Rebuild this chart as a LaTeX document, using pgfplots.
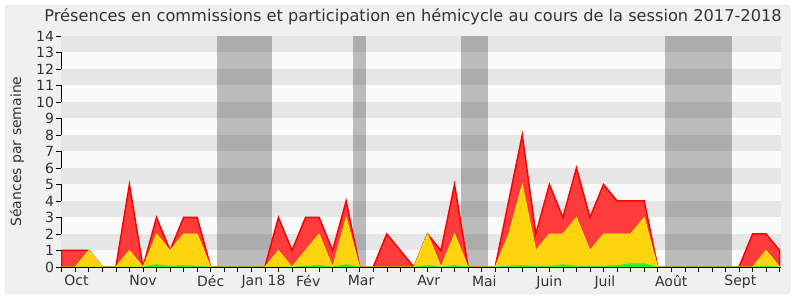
\documentclass[border=0pt]{standalone}
\usepackage{pgfplots}
\pgfplotsset{compat=1.18}
\usepackage{fontspec}
\setmainfont{DejaVu Sans}
\definecolor{bandgray}{HTML}{E6E6E6}
\definecolor{bandlight}{HTML}{FAFAFA}
\definecolor{framefill}{HTML}{F0F0F0}
\definecolor{frameline}{HTML}{D9D9D9}
\definecolor{redfill}{HTML}{FF3C3C}
\definecolor{redline}{HTML}{FF0000}
\definecolor{yelfill}{HTML}{FFD40F}
\definecolor{yelline}{HTML}{FFEE00}
\definecolor{grefill}{HTML}{33EE33}
\definecolor{txt}{HTML}{333333}
\begin{document}
\begin{tikzpicture}
\fill[white] (-61bp,-33bp) rectangle (739bp,267bp);
\fill[framefill,draw=frameline,rounded corners=4bp] (-56bp,-27bp) rectangle (729bp,262bp);
\begin{axis}[
  scale only axis, width=720bp, height=231bp,
  xmin=-0.05, xmax=53.1, ymin=0, ymax=14,
  axis x line=bottom, axis y line=left,
  axis line style={-, black, line width=0.8bp},
  axis background/.style={fill=bandlight},
  xtick={1.1,6,11,14.9,18.2,22.1,27.1,31.2,36,40.1,45,50.1},
  xticklabels={Oct,Nov,Déc,Jan 18,Fév,Mar,Avr,Mai,Juin,Juil,Août,Sept},
  major x tick style={draw=none},
  minor xtick={0,...,53},
  minor tick length=5bp,
  minor x tick style={black, line width=0.6bp},
  ytick={0,...,14},
  major y tick style={black, line width=0.6bp},
  major tick length=5bp,
  tick align=outside,
  /pgf/number format/assume math mode=true,
  ticklabel style={font=\fontsize{14bp}{16bp}\selectfont, text=txt},
  xticklabel style={yshift=0bp},
  yticklabel style={xshift=1.5bp},
  ylabel={Séances par semaine},
  ylabel style={font=\fontsize{14bp}{16bp}\selectfont, text=txt, at={(axis description cs:-0.061,0.5)}, anchor=center},
  title={Présences en commissions et participation en hémicycle au cours de la session 2017-2018},
  title style={font=\fontsize{16.2bp}{18bp}\selectfont, text=txt, at={(axis description cs:0.5,1)}, anchor=base, yshift=9bp, xshift=-8bp},
  clip=true,
]
% horizontal bands
\fill[bandgray] (axis cs:-1,1) rectangle (axis cs:54,2);
\fill[bandgray] (axis cs:-1,3) rectangle (axis cs:54,4);
\fill[bandgray] (axis cs:-1,5) rectangle (axis cs:54,6);
\fill[bandgray] (axis cs:-1,7) rectangle (axis cs:54,8);
\fill[bandgray] (axis cs:-1,9) rectangle (axis cs:54,10);
\fill[bandgray] (axis cs:-1,11) rectangle (axis cs:54,12);
\fill[bandgray] (axis cs:-1,13) rectangle (axis cs:54,14);
% vacation bands
\fill[black,opacity=0.25] (axis cs:11.5,0) rectangle (axis cs:15.5,14);
\fill[black,opacity=0.25] (axis cs:21.5,0) rectangle (axis cs:22.5,14);
\fill[black,opacity=0.25] (axis cs:29.5,0) rectangle (axis cs:31.5,14);
\fill[black,opacity=0.25] (axis cs:44.5,0) rectangle (axis cs:49.5,14);
% total
\addplot[fill=redfill, draw=redline, line width=1.5bp] coordinates {
(0,1)(1,1)(2,1)(3,0)(4,0)(5,5)(6,0)(7,3)(8,1)(9,3)(10,3)(11,0)(12,0)(13,0)(14,0)(15,0)
(16,3)(17,1)(18,3)(19,3)(20,1)(21,4)(22,0)(23,0)(24,2)(25,1)(26,0)(27,2)(28,1)(29,5)
(30,0)(31,0)(32,0)(33,4)(34,8)(35,2)(36,5)(37,3)(38,6)(39,3)(40,5)(41,4)(42,4)(43,4)
(44,0)(45,0)(46,0)(47,0)(48,0)(49,0)(50,0)(51,2)(52,2)(53,1)
} \closedcycle;
% hemicycle
\addplot[fill=yelfill, draw=yelline, line width=0.8bp] coordinates {
(0,0)(1,0)(2,1)(3,0)(4,0)(5,1)(6,0)(7,2)(8,1)(9,2)(10,2)(11,0)(12,0)(13,0)(14,0)(15,0)
(16,1)(17,0)(18,1)(19,2)(20,0)(21,3)(22,0)(23,0)(24,0)(25,0)(26,0)(27,2)(28,0)(29,2)
(30,0)(31,0)(32,0)(33,2)(34,5)(35,1)(36,2)(37,2)(38,3)(39,1)(40,2)(41,2)(42,2)(43,3)
(44,0)(45,0)(46,0)(47,0)(48,0)(49,0)(50,0)(51,0)(52,1)(53,0)
} \closedcycle;
% other
\addplot[fill=grefill, draw=grefill, line width=0.6bp] coordinates {
(0,0)(1,0)(2,0)(3,0)(4,0)(5,0)(6,0)(7,0.15)(8,0.05)(9,0.1)(10,0.05)(11,0)(12,0)(13,0)(14,0)(15,0)
(16,0)(17,0)(18,0.05)(19,0.1)(20,0)(21,0.15)(22,0)(23,0)(24,0)(25,0)(26,0)(27,0.1)(28,0)(29,0.1)
(30,0)(31,0)(32,0)(33,0.05)(34,0.1)(35,0.05)(36,0.05)(37,0.15)(38,0.05)(39,0.05)(40,0.05)(41,0.1)(42,0.2)(43,0.2)
(44,0)(45,0)(46,0)(47,0)(48,0)(49,0)(50,0)(51,0)(52,0.05)(53,0)
} \closedcycle;
\end{axis}
\end{tikzpicture}
\end{document}
